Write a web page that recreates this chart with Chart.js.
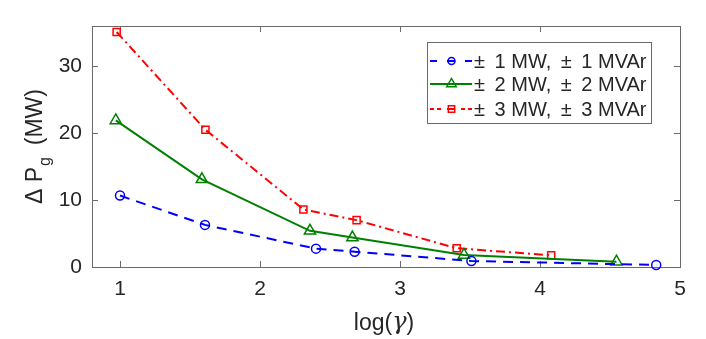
<!DOCTYPE html>
<html>
<head>
<meta charset="utf-8">
<script src="https://cdn.jsdelivr.net/npm/chart.js@4.4.1/dist/chart.umd.min.js"></script>
<style>
html,body{margin:0;padding:0;background:#fff;}
#wrap{width:706px;height:339px;}
</style>
</head>
<body>
<div id="wrap"><canvas id="myChart" width="706" height="339"></canvas></div>
<script>
// values
var xTicks = [1, 2, 3, 4, 5];
var yTicks = [0, 10, 20, 30];
var seriesNames = [
    '\u00b1\u2009 1 MW,\u2009 \u00b1\u2009 1 MVAr',
    '\u00b1\u2009 2 MW,\u2009 \u00b1\u2009 2 MVAr',
    '\u00b1\u2009 3 MW,\u2009 \u00b1\u2009 3 MVAr'
];

var x1 = [1.0, 1.607, 2.40, 2.676, 3.51, 4.83];
var y1 = [10.67, 6.29, 2.74, 2.29, 0.9, 0.3];
var x2 = [0.97, 1.585, 2.357, 2.66, 3.457, 4.546];
var y2 = [21.9, 13.1, 5.4, 4.4, 1.8, 0.8];
var x3 = [0.976, 1.61, 2.31, 2.69, 3.405, 4.08];
var y3 = [35.1, 20.5, 8.6, 7.0, 2.8, 1.75];

var fontFam = '"Liberation Sans", Arial, Helvetica, sans-serif';
var txtColor = '#262626';
var axColor = '#6a6a6a';

function pts(xs, ys) {
    var out = [];
    for (var i = 0; i < xs.length; i++) out.push({x: xs[i], y: ys[i]});
    return out;
}

var styles = [
    {color: '#0000ff', dash: [10, 7], legDash: [7, 10, 8, 10, 7], marker: 'circle', r: 4.5, lr: 3.5},
    {color: '#008000', dash: [], legDash: [], marker: 'triangle', r: 6.5, lr: 5.5},
    {color: '#ff0000', dash: [9, 4, 2, 4], legDash: [4, 3, 4, 6, 8, 6, 4, 3, 4], marker: 'rect', r: 5, lr: 4.5}
];

function marker(ctx, kind, x, y, r) {
    ctx.beginPath();
    if (kind == 'circle') {
        ctx.arc(x, y, r, 0, Math.PI * 2);
    } else if (kind == 'triangle') {
        ctx.moveTo(x, y - r);
        ctx.lineTo(x + r * 0.866, y + r * 0.5);
        ctx.lineTo(x - r * 0.866, y + r * 0.5);
        ctx.closePath();
    } else {
        var s = r * Math.SQRT1_2;
        ctx.rect(x - s, y - s, 2 * s, 2 * s);
    }
    ctx.stroke();
}

var boxPlugin = {
    id: 'box',
    beforeDatasetsDraw: function(chart) {
        var ctx = chart.ctx, a = chart.chartArea;
        var xs = chart.scales.x, ys = chart.scales.y;
        ctx.save();
        ctx.strokeStyle = axColor;
        ctx.lineWidth = 1;
        ctx.strokeRect(a.left + 0.5, a.top + 0.5, a.right - a.left, a.bottom - a.top);
        ctx.beginPath();
        xTicks.forEach(function(v) {
            var px = Math.round(xs.getPixelForValue(v)) + 0.5;
            ctx.moveTo(px, a.bottom); ctx.lineTo(px, a.bottom - 6);
            ctx.moveTo(px, a.top); ctx.lineTo(px, a.top + 6);
        });
        yTicks.forEach(function(v) {
            var py = Math.round(ys.getPixelForValue(v)) + 0.5;
            ctx.moveTo(a.left, py); ctx.lineTo(a.left + 6, py);
            ctx.moveTo(a.right, py); ctx.lineTo(a.right - 6, py);
        });
        ctx.stroke();
        ctx.restore();
    },
    afterDraw: function(chart) {
        var ctx = chart.ctx, a = chart.chartArea;
        ctx.save();
        // x axis title: log(gamma)
        ctx.fillStyle = txtColor;
        ctx.textBaseline = 'alphabetic';
        ctx.textAlign = 'left';
        var cx = (a.left + a.right) / 2;
        ctx.font = '23px ' + fontFam;
        var w1 = ctx.measureText('log(').width;
        ctx.font = 'italic 24px "DejaVu Serif", serif';
        var w2 = ctx.measureText('\u03b3').width;
        ctx.font = '23px ' + fontFam;
        var w3 = ctx.measureText(')').width;
        var sx = cx - (w1 + w2 + w3) / 2 - 2, by = 330;
        ctx.fillText('log(', sx, by);
        ctx.font = 'italic 24px "DejaVu Serif", serif';
        ctx.fillText('\u03b3', sx + w1, by - 1);
        ctx.font = '23px ' + fontFam;
        ctx.fillText(')', sx + w1 + w2, by);

        // y axis title: Delta P_g (MW)
        ctx.save();
        ctx.translate(42, (a.top + a.bottom) / 2);
        ctx.rotate(-Math.PI / 2);
        ctx.font = '23px ' + fontFam;
        var t1 = '\u0394 P', t3 = '  (MW)';
        var a1 = ctx.measureText(t1).width;
        ctx.font = '16px ' + fontFam;
        var a2 = ctx.measureText('g').width;
        ctx.font = '23px ' + fontFam;
        var a3 = ctx.measureText(t3).width;
        var s0 = -(a1 + a2 + a3) / 2;
        ctx.fillText(t1, s0, 0);
        ctx.font = '16px ' + fontFam;
        ctx.fillText('g', s0 + a1 + 1, 8);
        ctx.font = '23px ' + fontFam;
        ctx.fillText(t3, s0 + a1 + a2, 0);
        ctx.restore();

        // legend
        var lx = 427, ly = 42, lw = 224, lh = 81;
        ctx.fillStyle = '#fff';
        ctx.fillRect(lx, ly, lw, lh);
        ctx.strokeStyle = axColor;
        ctx.lineWidth = 1;
        ctx.strokeRect(lx + 0.5, ly + 0.5, lw, lh);
        var rows = [61, 84, 109];
        for (var i = 0; i < 3; i++) {
            var st = styles[i], ry = rows[i];
            ctx.strokeStyle = st.color;
            ctx.lineWidth = 2;
            ctx.setLineDash(st.legDash);
            ctx.beginPath();
            ctx.moveTo(430, ry); ctx.lineTo(472, ry);
            ctx.stroke();
            ctx.setLineDash([]);
            ctx.lineWidth = 1.5;
            marker(ctx, st.marker, 451.5, ry, st.lr);
            ctx.fillStyle = txtColor;
            ctx.font = '20px ' + fontFam;
            ctx.textAlign = 'left';
            ctx.textBaseline = 'middle';
            ctx.fillText(seriesNames[i], 474, ry + 1);
        }
        ctx.restore();
    }
};

function makeSet(i, xs, ys) {
    var st = styles[i];
    return {
        label: seriesNames[i],
        data: pts(xs, ys),
        showLine: true,
        borderColor: st.color,
        borderWidth: 2,
        borderDash: st.dash,
        pointStyle: st.marker,
        pointRadius: st.r,
        pointHoverRadius: st.r,
        pointBorderColor: st.color,
        pointBackgroundColor: 'rgba(0,0,0,0)',
        pointBorderWidth: 1.5,
        tension: 0,
        clip: false
    };
}

var ctx = document.getElementById('myChart').getContext('2d');
var myChart = new Chart(ctx, {
    type: 'scatter',
    data: {
        datasets: [makeSet(0, x1, y1), makeSet(1, x2, y2), makeSet(2, x3, y3)]
    },
    options: {
        responsive: false,
        animation: false,
        devicePixelRatio: 1,
        layout: {padding: {left: 0, right: 26, top: 26, bottom: 0}},
        plugins: {legend: {display: false}, tooltip: {enabled: false}},
        scales: {
            x: {
                type: 'linear', min: 0.8, max: 5,
                afterBuildTicks: function(s) { s.ticks = xTicks.map(function(v) { return {value: v}; }); },
                afterFit: function(s) { s.height = 72; },
                grid: {display: false, drawTicks: false},
                border: {display: false},
                ticks: {padding: 10, color: txtColor, font: {size: 21, family: fontFam}, maxRotation: 0}
            },
            y: {
                type: 'linear', min: 0, max: 36,
                afterBuildTicks: function(s) { s.ticks = yTicks.map(function(v) { return {value: v}; }); },
                afterFit: function(s) { s.width = 92; },
                grid: {display: false, drawTicks: false},
                border: {display: false},
                ticks: {padding: 10, color: txtColor, font: {size: 21, family: fontFam}}
            }
        }
    },
    plugins: [boxPlugin]
});
</script>
</body>
</html>
